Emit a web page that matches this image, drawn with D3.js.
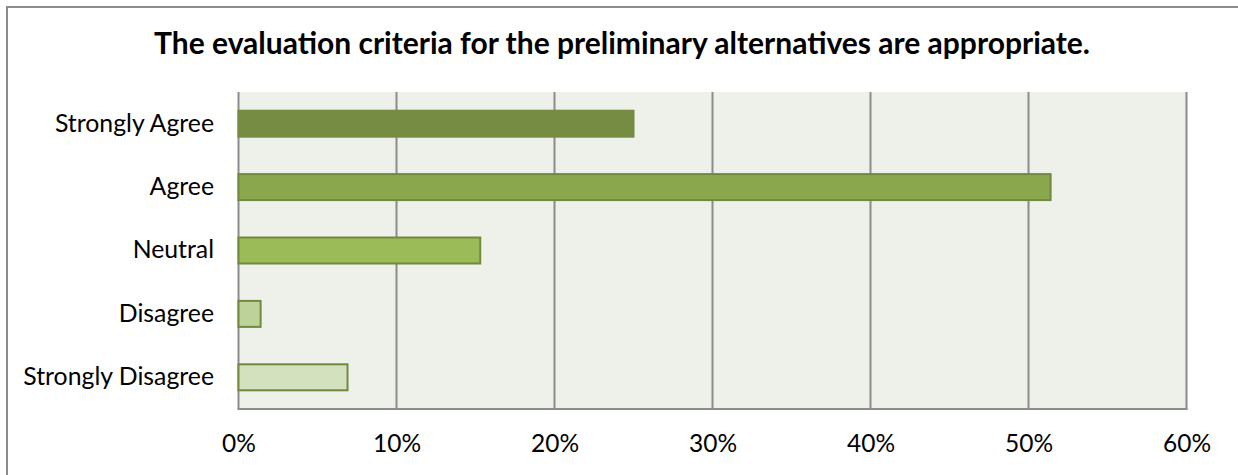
<!DOCTYPE html>
<html>
<head>
<meta charset="utf-8">
<script src="https://cdn.jsdelivr.net/npm/d3@7"></script>
<style>
  html, body { margin: 0; padding: 0; background: #fff; }
  svg { display: block; }
  text { font-family: Lato, "Open Sans", sans-serif; fill: #000; }
</style>
</head>
<body>
<svg id="chart" width="1238" height="475"></svg>
<script>
// Survey responses (share of respondents)
const categories = ["Strongly Agree", "Agree", "Neutral", "Disagree", "Strongly Disagree"];
const values = [0.25, 0.514, 0.153, 0.014, 0.069];
const fills = ["#758C42", "#8AA74E", "#9BBB59", "#BCD29A", "#D4E1BF"];
const strokes = ["#758C42", "#71893F", "#71893F", "#71893F", "#71893F"];
const tickValues = [0, 0.1, 0.2, 0.3, 0.4, 0.5, 0.6];
const title = "The evaluation criteria for the preliminary alternatives are appropriate.";

const svg = d3.select("#chart");
const W = 1238, H = 475;
const plot = { left: 238.5, right: 1186.5, top: 92, bottom: 409 };

// outer frame
svg.append("rect")
  .attr("x", 7).attr("y", 7)
  .attr("width", W + 10).attr("height", H + 10)
  .attr("fill", "#fff").attr("stroke", "#8C8C8C").attr("stroke-width", 2);

svg.append("text")
  .attr("x", 622).attr("y", 54)
  .attr("text-anchor", "middle")
  .attr("font-size", 30).attr("font-weight", "bold")
  .text(title);

const x = d3.scaleLinear().domain([0, 0.6]).range([plot.left, plot.right]);
const y = d3.scaleBand().domain(categories).range([plot.top, plot.bottom]).paddingInner(0.59).paddingOuter(0.295);

// plot background
svg.append("rect")
  .attr("x", plot.left).attr("y", plot.top)
  .attr("width", plot.right - plot.left).attr("height", plot.bottom - plot.top)
  .attr("fill", "#EEF1E9");

// vertical gridlines
svg.append("g").selectAll("line")
  .data(tickValues)
  .join("line")
  .attr("x1", d => x(d)).attr("x2", d => x(d))
  .attr("y1", plot.top).attr("y2", plot.bottom)
  .attr("stroke", "#8C8C8C").attr("stroke-width", 2);

// bottom axis line
svg.append("line")
  .attr("x1", plot.left - 1).attr("x2", plot.right + 1)
  .attr("y1", plot.bottom).attr("y2", plot.bottom)
  .attr("stroke", "#8C8C8C").attr("stroke-width", 2);

// bars
svg.append("g").selectAll("rect")
  .data(categories)
  .join("rect")
  .attr("x", x(0))
  .attr("y", d => y(d))
  .attr("width", (d, i) => x(values[i]) - x(0))
  .attr("height", y.bandwidth())
  .attr("fill", (d, i) => fills[i])
  .attr("stroke", (d, i) => strokes[i])
  .attr("stroke-width", 2);

// x axis tick labels
const xAxis = d3.axisBottom(x).tickValues(tickValues).tickFormat(d3.format(".0%")).tickSize(0).tickPadding(0);
const gx = svg.append("g").attr("transform", `translate(0,${plot.bottom})`).call(xAxis);
gx.select(".domain").remove();
gx.selectAll("text")
  .attr("y", 43).attr("dy", null)
  .attr("font-size", 24.5)
  .attr("font-family", "Lato, 'Open Sans', sans-serif")
  .attr("fill", "#000");

// category labels
const yAxis = d3.axisLeft(y).tickSize(0).tickPadding(0);
const gy = svg.append("g").attr("transform", `translate(214,0)`).call(yAxis);
gy.select(".domain").remove();
gy.selectAll("text")
  .attr("font-size", 24.8)
  .attr("font-family", "Lato, 'Open Sans', sans-serif")
  .attr("fill", "#000");
</script>
</body>
</html>
